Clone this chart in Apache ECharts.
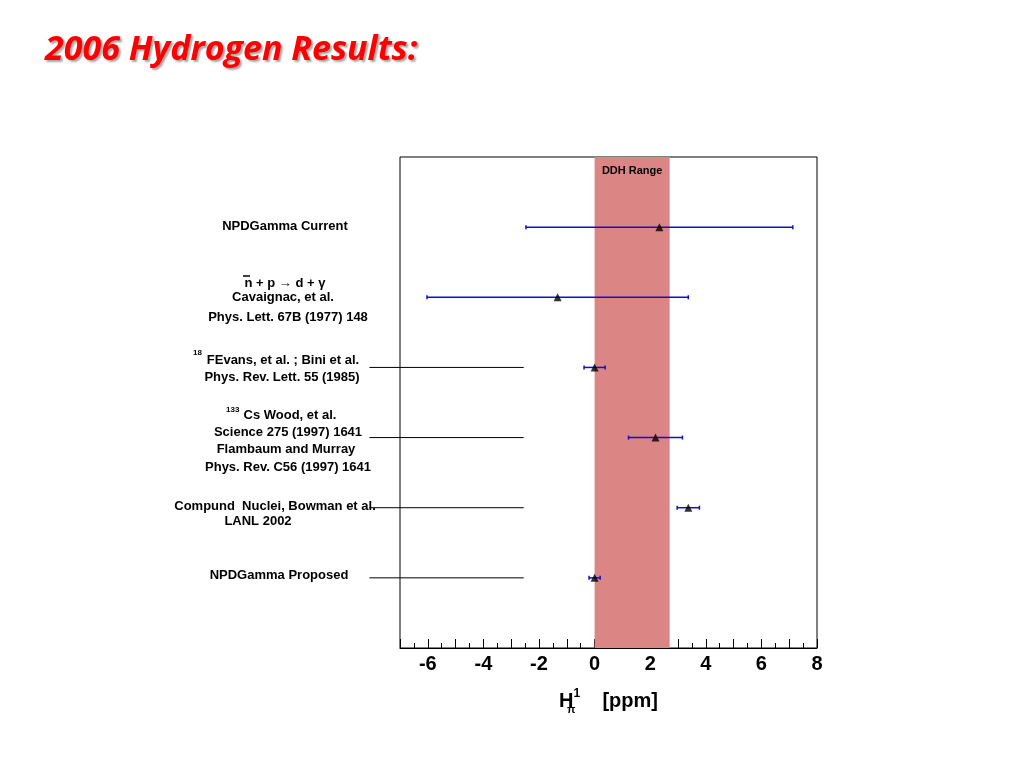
<!DOCTYPE html>
<html><head><meta charset="utf-8">
<script src="https://cdn.jsdelivr.net/npm/echarts@6/dist/echarts.min.js"></script>
<style>html,body{margin:0;background:#fff}#c{width:1024px;height:768px}</style>
</head><body><div id="c"></div>
<script>
const rows = [6, 5, 4, 3, 2, 1];
const centers = [2.33, -1.33, 0.0, 2.19, 3.37, 0.0];
const errors = [4.8, 4.7, 0.38, 0.97, 0.4, 0.2];
const ddhRange = [0, 2.7];
const leaderRows = [4, 3, 2, 1];
const leaderX = [-8.1, -2.55];

const chart = echarts.init(document.getElementById('c'));
const errData = rows.map((r, i) => [centers[i] - errors[i], centers[i] + errors[i], r]);
const ptData = rows.map((r, i) => [centers[i], r]);
const lf = 'Liberation Sans, Arial, sans-serif';
const T = (text, x, y) => ({type:'text', style:{text, x, y, font:'bold 13px '+lf, fill:'#000', align:'center', verticalAlign:'middle'}});
const S = (text, x, y) => ({type:'text', style:{text, x, y, font:'bold 8px '+lf, fill:'#000', align:'left', verticalAlign:'middle'}});
chart.setOption({
  animation:false,
  title:{text:'2006 Hydrogen Results:', left:40, top:28,
    textStyle:{color:'#ff0000', fontSize:34, fontWeight:'bold', fontStyle:'italic', fontFamily:'Open Sans, sans-serif',
      textShadowColor:'rgba(0,0,0,0.35)', textShadowBlur:2, textShadowOffsetX:2, textShadowOffsetY:2}},
  grid:{left:400, right:207, top:157, bottom:120, show:true, borderColor:'#000', borderWidth:1, backgroundColor:'transparent'},
  xAxis:{type:'value', min:-7, max:8, interval:1,
    axisLine:{show:true, lineStyle:{color:'#000'}},
    axisTick:{inside:true, length:9, lineStyle:{color:'#000'}},
    minorTick:{show:true, splitNumber:2, length:5, lineStyle:{color:'#000'}},
    splitLine:{show:false},
    axisLabel:{formatter:v=> (v%2===0? String(v):''), fontSize:20, fontWeight:'bold', color:'#000', fontFamily:lf, margin:6, showMinLabel:false},
    name:'{h|H}{s|1}{p|    [ppm]}', nameLocation:'middle', nameGap:40,
    nameTextStyle:{rich:{h:{fontSize:20,fontWeight:'bold',fontFamily:lf,color:'#000'},
      s:{fontSize:12,fontWeight:'bold',fontFamily:lf,color:'#000',verticalAlign:'top',padding:[0,0,14,0]},
      p:{fontSize:20,fontWeight:'bold',fontFamily:lf,color:'#000'}}}},
  yAxis:{type:'value', min:0, max:7, show:false, splitLine:{show:false}},
  graphic:[
    T('NPDGamma Current',285,226),
    T('n + p \u2192 d + \u03B3',285,283),
    {type:'line', shape:{x1:243,y1:276,x2:250,y2:276}, style:{stroke:'#000', lineWidth:1.5}},
    {type:'text', style:{text:'\u03C0', x:567, y:704, font:'bold 11px '+lf, fill:'#000'}},
    T('Cavaignac, et al.',283,297),
    T('Phys. Lett. 67B (1977) 148',288,317),
    S('18',193,353),
    T('FEvans, et al. ; Bini et al.',283,360),
    T('Phys. Rev. Lett. 55 (1985)',282,377),
    S('133',226,410),
    T('Cs Wood, et al.',290,415),
    T('Science 275 (1997) 1641',288,432),
    T('Flambaum and Murray',286,449),
    T('Phys. Rev. C56 (1997) 1641',288,467),
    T('Compund  Nuclei, Bowman et al.',275,506),
    T('LANL 2002',258,521),
    T('NPDGamma Proposed',279,575)
  ],
  series:[
    {type:'scatter', data:[], markArea:{silent:true, itemStyle:{color:'#dc8585'},
      label:{show:true, position:'insideTop', color:'#000', fontWeight:'bold', fontSize:11, fontFamily:lf, distance:8},
      data:[[{xAxis:ddhRange[0], name:'DDH Range'},{xAxis:ddhRange[1]}]]}},
    {type:'custom', clip:false, data:leaderRows.map(r=>[leaderX[0], leaderX[1], r]),
      renderItem:(p, api)=>{const a=api.coord([api.value(0),api.value(2)]), b=api.coord([api.value(1),api.value(2)]);
        return {type:'line', shape:{x1:a[0],y1:a[1],x2:b[0],y2:b[1]}, style:{stroke:'#000', lineWidth:1}};}},
    {type:'custom', data:errData,
      renderItem:(p, api)=>{const a=api.coord([api.value(0),api.value(2)]), b=api.coord([api.value(1),api.value(2)]);
        const s={stroke:'#1010cc', lineWidth:1.5};
        return {type:'group', children:[
          {type:'line', shape:{x1:a[0],y1:a[1],x2:b[0],y2:b[1]}, style:s},
          {type:'line', shape:{x1:a[0],y1:a[1]-2,x2:a[0],y2:a[1]+2}, style:s},
          {type:'line', shape:{x1:b[0],y1:b[1]-2,x2:b[0],y2:b[1]+2}, style:s}]};}},
    {type:'scatter', data:ptData, symbol:'triangle', symbolSize:8, itemStyle:{color:'#000'}, z:5}
  ]
});
</script></body></html>
